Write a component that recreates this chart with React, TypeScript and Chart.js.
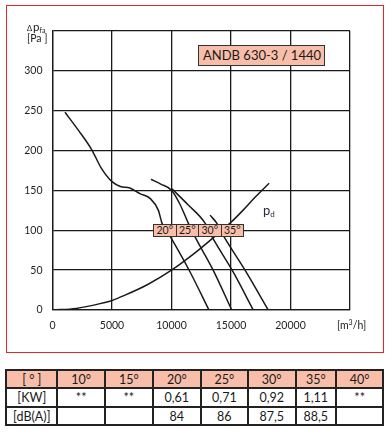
import React, { useEffect, useRef } from "react";
import { Chart, registerables } from "chart.js";

Chart.register(...registerables);

// ---- data ----
const flow20 = [1050, 2200, 3300, 4100, 5000, 5700, 6500, 7350, 8200, 8900, 9200, 9900, 11550, 13150];
const pres20 = [248, 225, 201, 178, 161, 155, 153, 146, 140, 125, 109, 92, 48, 0];

const flow25 = [8280, 9100, 10020, 10700, 11410, 11970, 13500, 15060];
const pres25 = [164, 158, 150, 133, 109, 92, 50, 0];

const flow30 = [10040, 11390, 12820, 13400, 15170, 16870];
const pres30 = [152, 132, 109, 92, 48, 0];

const flow35 = [13240, 13800, 14410, 16180, 18130];
const pres35 = [119, 109, 92, 50, 0];

const flowPd = [0, 2000, 4000, 5000, 6000, 8000, 10000, 12000, 14000, 15000, 16000, 17000, 18200];
const presPd = [0, 2, 8, 12, 18, 32, 50, 72, 97, 110, 125, 141, 159];

const xTicks = [0, 5000, 10000, 15000, 20000, 25000];
const yTicks = [0, 50, 100, 150, 200, 250, 300, 350];

const angleLabels = ["20°", "25°", "30°", "35°"];
const modelName = "ANDB 630-3 / 1440";

const tableAngles = ["[ ° ]", "10°", "15°", "20°", "25°", "30°", "35°", "40°"];
const tablePower = ["[KW]", "**", "**", "0,61", "0,71", "0,92", "1,11", "**"];
const tableNoise = ["[dB(A)]", "", "", "84", "86", "87,5", "88,5", ""];

const SALMON = "#f8bea9";
const FONT = "Lato, 'Open Sans', sans-serif";

const toPts = (xs: number[], ys: number[]) => xs.map((x, i) => ({ x, y: ys[i] }));

function FanChart() {
  const ref = useRef<HTMLCanvasElement | null>(null);
  useEffect(() => {
    if (!ref.current) return;
    const ds = (xs: number[], ys: number[]) => ({
      data: toPts(xs, ys),
      borderColor: "#1a1a1a",
      borderWidth: 1.5,
      pointRadius: 0,
      fill: false,
      cubicInterpolationMode: "monotone" as const,
    });
    const chart = new Chart(ref.current, {
      type: "line",
      data: {
        datasets: [
          ds(flow20, pres20),
          ds(flow25, pres25),
          ds(flow30, pres30),
          ds(flow35, pres35),
          ds(flowPd, presPd),
        ],
      },
      options: {
        animation: false,
        responsive: false,
        devicePixelRatio: 1,
        layout: { padding: { left: 0, right: 39, top: 31, bottom: 0 } },
        plugins: { legend: { display: false }, tooltip: { enabled: false } },
        scales: {
          x: {
            type: "linear",
            min: 0,
            max: 25000,
            afterBuildTicks: (s: any) => {
              s.ticks = xTicks.map((v) => ({ value: v }));
            },
            afterFit: (s: any) => {
              s.height = 43;
            },
            grid: { color: "#1a1a1a", lineWidth: 1.3, drawTicks: false },
            border: { color: "#1a1a1a", width: 1.3 },
            ticks: {
              padding: 9,
              color: "#1f1f1f",
              font: { family: FONT, size: 10.5 },
              maxRotation: 0,
              autoSkip: false,
              callback: (v: any) => (v === 25000 ? "" : String(v)),
            },
          },
          y: {
            type: "linear",
            min: 0,
            max: 350,
            afterBuildTicks: (s: any) => {
              s.ticks = yTicks.map((v) => ({ value: v }));
            },
            afterFit: (s: any) => {
              s.width = 52.5;
            },
            grid: { color: "#1a1a1a", lineWidth: 1.3, drawTicks: false },
            border: { color: "#1a1a1a", width: 1.3 },
            ticks: {
              padding: 10,
              color: "#1f1f1f",
              font: { family: FONT, size: 10.5 },
              autoSkip: false,
              callback: (v: any) => (v === 350 ? "" : String(v)),
            },
          },
        },
      },
    });
    return () => chart.destroy();
  }, []);
  return (
    <canvas
      ref={ref}
      width={389}
      height={353}
      style={{ position: "absolute", left: 0, top: 0, width: 389, height: 353 }}
    />
  );
}

const colX = [6.3, 57.3, 105, 152.7, 201, 247.7, 295.7, 336, 383.3];
const rowY = [370, 388, 406.5, 425];

function Table() {
  const rows = [tableAngles, tablePower, tableNoise];
  const cells: any[] = [];
  rows.forEach((row, r) => {
    row.forEach((txt, c) => {
      const left = colX[c];
      const top = rowY[r];
      const w = colX[c + 1] - left;
      const h = rowY[r + 1] - top;
      cells.push(
        <div
          key={r + "-" + c}
          style={{
            position: "absolute",
            left,
            top,
            width: w,
            height: h,
            boxSizing: "border-box",
            border: "0.75px solid #222",
            outline: "0.75px solid #222",
            background: r === 0 ? SALMON : "#fff",
            fontFamily: FONT,
            fontSize: 12.5,
            color: "#1a1a1a",
            textAlign: "center",
            lineHeight: h + "px",
          }}
        >
          {txt}
        </div>
      );
    });
  });
  return <>{cells}</>;
}

export default function App() {
  return (
    <div
      style={{
        position: "fixed",
        left: 0,
        top: 0,
        width: 389,
        height: 433,
        background: "#fff",
        fontFamily: FONT,
        color: "#1a1a1a",
        overflow: "hidden",
      }}
    >
      <div
        style={{
          position: "absolute",
          left: 6,
          top: 5,
          width: 378,
          height: 348,
          boxSizing: "border-box",
          border: "1.5px solid #e3282c",
        }}
      />
      <FanChart />
      {/* axis captions */}
      <div style={{ position: "absolute", left: 27, top: 17, lineHeight: 1, whiteSpace: "nowrap" }}>
        <span style={{ fontSize: 7.5 }}>Δ</span>
        <span style={{ fontSize: 11.5, marginLeft: 1 }}>p</span>
        <span style={{ fontSize: 7, position: "relative", top: 2 }}>fa</span>
      </div>
      <div style={{ position: "absolute", left: 27, top: 33, fontSize: 10.5, lineHeight: 1 }}>[Pa ]</div>
      <div style={{ position: "absolute", left: 337, top: 320, fontSize: 10.5, lineHeight: 1, whiteSpace: "nowrap" }}>
        [m<span style={{ fontSize: 7, position: "relative", top: -4 }}>3</span>/h]
      </div>
      {/* model box */}
      <div
        style={{
          position: "absolute",
          left: 198,
          top: 45,
          width: 127,
          height: 21,
          boxSizing: "border-box",
          border: "1px solid #333",
          background: SALMON,
          fontSize: 13,
          lineHeight: "19px",
          paddingLeft: 4,
          whiteSpace: "nowrap",
        }}
      >
        {modelName}
      </div>
      {/* angle label box */}
      <div style={{ position: "absolute", left: 153, top: 224, display: "flex" }}>
        {angleLabels.map((a, i) => (
          <div
            key={a}
            style={{
              width: 23.5,
              height: 12.5,
              boxSizing: "border-box",
              border: "1px solid #333",
              marginLeft: i === 0 ? 0 : -1,
              background: SALMON,
              fontSize: 10.5,
              lineHeight: "10.5px",
              textAlign: "center",
            }}
          >
            {a}
          </div>
        ))}
      </div>
      {/* pd label */}
      <div style={{ position: "absolute", left: 263, top: 201, lineHeight: 1, whiteSpace: "nowrap", color: "#2a2a3a" }}>
        <span style={{ fontSize: 13 }}>p</span>
        <span style={{ fontSize: 8, position: "relative", top: 2 }}>d</span>
      </div>
      <Table />
    </div>
  );
}
